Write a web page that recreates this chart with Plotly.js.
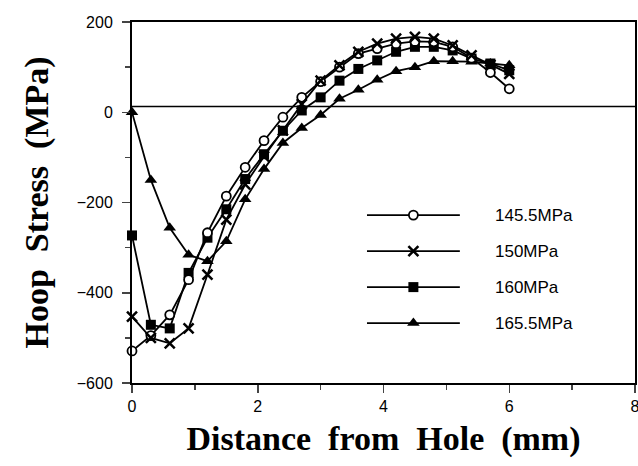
<!DOCTYPE html>
<html>
<head>
<meta charset="utf-8">
<script src="https://cdn.plot.ly/plotly-3.0.1.min.js"></script>
<style>html,body{margin:0;padding:0;background:#fff;}#chart{width:638px;height:466px;}</style>
</head>
<body>
<div id="chart"></div>
<script>
// Data
const distance = [0, 0.3, 0.6, 0.9, 1.2, 1.5, 1.8, 2.1, 2.4, 2.7, 3.0, 3.3, 3.6, 3.9, 4.2, 4.5, 4.8, 5.1, 5.4, 5.7, 6.0];
const stress145_5 = [-529, -495, -449, -371, -267, -186, -122, -63, -11, 33, 68, 100, 130, 141, 152, 157, 156, 145, 120, 88, 52];
const stress150   = [-453, -500, -512, -479, -360, -238, -160, -98, -40, 18, 70, 104, 134, 152, 163, 167, 163, 148, 126, 105, 85];
const stress160   = [-273, -471, -479, -356, -278, -215, -148, -93, -41, 4, 33, 70, 96, 115, 134, 145, 145, 137, 119, 108, 93];
const stress165_5 = [0, -150, -256, -316, -330, -286, -193, -126, -68, -35, -6, 30, 50, 72, 91, 100, 113, 113, 112, 108, 104];
const seriesNames = ['145.5MPa', '150MPa', '160MPa', '165.5MPa'];
const refLineValue = 13;
const xTickVals = [0, 2, 4, 6, 8];
const yTickVals = [-600, -400, -200, 0, 200];

const markerStyles = {
  '145.5MPa': {symbol: 'circle', size: 9, color: '#ffffff', line: {color: '#000', width: 1.8}},
  '150MPa':   {symbol: 'x-thin-open', size: 10, color: '#000', line: {color: '#000', width: 2.5}},
  '160MPa':   {symbol: 'square', size: 10, color: '#000', line: {color: '#000', width: 0}},
  '165.5MPa': {symbol: 'triangle-up', size: 11, color: '#000', line: {color: '#000', width: 0}}
};
const seriesData = {
  '145.5MPa': stress145_5, '150MPa': stress150, '160MPa': stress160, '165.5MPa': stress165_5
};
const drawOrder = ['165.5MPa', '160MPa', '145.5MPa', '150MPa'];

const traces = drawOrder.map(n => ({
  x: distance, y: seriesData[n], type: 'scatter', mode: 'lines+markers', name: n,
  showlegend: false, cliponaxis: false,
  line: {color: '#000', width: 1.8}, marker: markerStyles[n], xaxis: 'x', yaxis: 'y'
}));

// custom legend samples drawn on an auxiliary axis
seriesNames.forEach((n, i) => {
  traces.push({x: [0, 1], y: [i, i], type: 'scatter', mode: 'lines', showlegend: false,
    line: {color: '#000', width: 1.8}, xaxis: 'x2', yaxis: 'y2', hoverinfo: 'skip'});
  traces.push({x: [0.5], y: [i], type: 'scatter', mode: 'markers', showlegend: false, cliponaxis: false,
    marker: markerStyles[n], xaxis: 'x2', yaxis: 'y2', hoverinfo: 'skip'});
});

const annotations = seriesNames.map((n, i) => ({
  xref: 'x2', yref: 'y2', x: 1.36, y: i, text: n, showarrow: false, xanchor: 'left',
  font: {family: 'Liberation Sans, Arial, sans-serif', size: 17, color: '#000'}
}));

const titleFont = {family: 'Liberation Serif, Times New Roman, serif', size: 34, weight: 'bold', color: '#000'};
const gap = '\u00a0 ';

const layout = {
  width: 638, height: 466,
  margin: {l: 132, r: 3, t: 22, b: 83},
  paper_bgcolor: '#fff', plot_bgcolor: '#fff',
  showlegend: false,
  font: {family: 'Liberation Sans, Arial, sans-serif', size: 16, color: '#000'},
  xaxis: {
    range: [0, 8], tickvals: xTickVals, ticks: 'outside', ticklen: 8, tickwidth: 1.5,
    ticklabeloverflow: 'allow',
    minor: {dtick: 1, ticks: 'outside', ticklen: 5, tickwidth: 1.5, showgrid: false},
    showline: true, linewidth: 2, linecolor: '#000', mirror: true, showgrid: false, zeroline: false,
    tickfont: {size: 16}, automargin: false,
    title: {text: 'Distance' + gap + 'from' + gap + 'Hole' + gap + '(mm)', standoff: 12, font: titleFont}
  },
  yaxis: {
    range: [-600, 200], tickvals: yTickVals, ticks: 'outside', ticklen: 8, tickwidth: 1.5,
    ticklabelstandoff: 6,
    minor: {dtick: 100, ticks: 'outside', ticklen: 5, tickwidth: 1.5, showgrid: false},
    showline: true, linewidth: 2, linecolor: '#000', mirror: true, showgrid: false, zeroline: false,
    tickfont: {size: 16}, automargin: false,
    title: {text: 'Hoop' + gap + 'Stress' + gap + '(MPa)', standoff: 18, font: titleFont}
  },
  xaxis2: {domain: [0.467, 0.929], range: [0, 2.5], anchor: 'y2', visible: false, fixedrange: true},
  yaxis2: {domain: [0.116, 0.515], range: [3.5, -0.5], anchor: 'x2', visible: false, fixedrange: true},
  shapes: [{type: 'line', xref: 'x', yref: 'y', x0: 0, x1: 8, y0: refLineValue, y1: refLineValue,
    line: {color: '#000', width: 1.5}}],
  annotations: annotations
};

Plotly.newPlot('chart', traces, layout, {staticPlot: true, displayModeBar: false});
</script>
</body>
</html>
